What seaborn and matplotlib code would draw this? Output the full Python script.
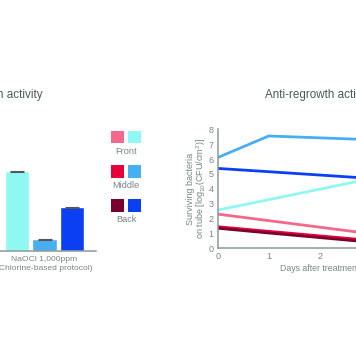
import matplotlib
matplotlib.use("Agg")
import numpy as np
import pandas as pd
import matplotlib.pyplot as plt
from matplotlib.patches import Rectangle
import seaborn as sns

sns.set_style("white")
plt.rcParams['font.family'] = ['Liberation Sans', 'DejaVu Sans']
plt.rcParams['mathtext.fontset'] = 'custom'
plt.rcParams['mathtext.rm'] = 'Liberation Sans'
plt.rcParams['mathtext.it'] = 'Liberation Sans:italic'

# ==========================================
# data
# ==========================================
positions = ["Front", "Middle", "Back"]
bar_group = "NaOCl 1,000ppm\n(Chlorine-based protocol)"
bar_values = [5.35, 0.8, 2.95]
bar_err = [0.04, 0.04, 0.04]

days = [0, 1, 3]
test_front = [2.3, 1.86, 0.98]
test_middle = [1.45, 1.14, 0.53]
test_back = [1.35, 1.03, 0.41]
naocl_front = [2.57, 3.27, 4.68]
naocl_middle = [6.1, 7.55, 7.3]
naocl_back = [5.37, 5.15, 4.7]

test_colors = ['#f4698b', '#e6003c', '#7a0030']
naocl_colors = ['#8ff8f2', '#48aef2', '#0b3ff4']

GRAY = '#8c9898'
TXT = '#7a8484'
TITLE = '#4f5858'

W, H = 356, 364
fig = plt.figure(figsize=(W / 100, H / 100), dpi=100)


def fx(x):
    return x / W


def fy(y):
    return 1 - y / H


# ==========================================
# left panel: bars (cropped on the left side)
# ==========================================
ax1 = fig.add_axes([fx(-7), fy(251), 103 / W, 119 / H])
bar_df = pd.DataFrame({'group': [bar_group] * 3, 'position': positions, 'value': bar_values})
sns.barplot(data=bar_df, x='group', y='value', hue='position', hue_order=positions,
            palette=naocl_colors, saturation=1, gap=0.1, errorbar=None, legend=False, ax=ax1)
for p, v, e in zip(ax1.patches, bar_values, bar_err):
    ax1.errorbar(p.get_x() + p.get_width() / 2, v, yerr=e, color='#505858',
                 capsize=5, elinewidth=0.8, capthick=0.8)
ax1.set_xlim(-0.5, 0.5)
ax1.set_ylim(0, 8)
ax1.set_xlabel('')
ax1.set_ylabel('')
ax1.set_yticks([])
for s in ['top', 'right']:
    ax1.spines[s].set_visible(False)
for s in ['left', 'bottom']:
    ax1.spines[s].set_color(GRAY)
    ax1.spines[s].set_linewidth(1.1)
ax1.tick_params(axis='x', length=0, pad=3.5, labelsize=6.1, labelcolor=TXT)
for t in ax1.get_xticklabels():
    t.set_linespacing(1.35)
fig.text(fx(43), fy(95), "Sterilization activity", ha='right', va='center',
         fontsize=8.4, color=TITLE)

# ==========================================
# legend in the middle: two squares per position
# ==========================================
rows_y = [131, 165, 199]
for lab, ty, c1, c2 in zip(positions, rows_y, test_colors, naocl_colors):
    fig.add_artist(Rectangle((fx(111), fy(ty + 12.5)), 12.5 / W, 12.5 / H,
                             transform=fig.transFigure, color=c1, lw=0))
    fig.add_artist(Rectangle((fx(128), fy(ty + 12.5)), 12.5 / W, 12.5 / H,
                             transform=fig.transFigure, color=c2, lw=0))
    fig.text(fx(126), fy(ty + 20.5), lab, ha='center', va='center', fontsize=6.6, color=TXT)

# ==========================================
# right panel: regrowth lines (cropped on the right side)
# ==========================================
series = {
    'test front': test_front, 'test middle': test_middle, 'test back': test_back,
    'naocl front': naocl_front, 'naocl middle': naocl_middle, 'naocl back': naocl_back,
}
line_df = pd.DataFrame([
    {'day': d, 'value': v, 'series': name}
    for name, vals in series.items() for d, v in zip(days, vals)
])
palette = dict(zip(series.keys(), test_colors + naocl_colors))

ax2 = fig.add_axes([fx(217.7), fy(248.3), 204 / W, 119 / H])
sns.lineplot(data=line_df, x='day', y='value', hue='series', palette=palette,
             linewidth=2.0, legend=False, ax=ax2)
ax2.set_xlim(0, 4)
ax2.set_ylim(0, 8)
ax2.set_xticks(range(0, 5))
ax2.set_yticks(range(0, 9))
for s in ['top', 'right']:
    ax2.spines[s].set_visible(False)
for s in ['left', 'bottom']:
    ax2.spines[s].set_color(GRAY)
    ax2.spines[s].set_linewidth(1.1)
ax2.tick_params(direction='in', length=2.5, width=1, color=GRAY,
                labelsize=6.5, labelcolor=TXT, pad=3)
ax2.set_xlabel("Days after treatment", fontsize=6.3, color=TXT, labelpad=1.5)
ax2.set_ylabel("Surviving bacteria\non tube [log$_{10}$(CFU/cm$^2$)]",
               fontsize=6.5, color=TXT, labelpad=0, linespacing=1.0)
fig.text(fx(319.5), fy(95), "Anti-regrowth activity", ha='center', va='center',
         fontsize=8.4, color=TITLE)

fig.savefig("out.png", dpi=100)
